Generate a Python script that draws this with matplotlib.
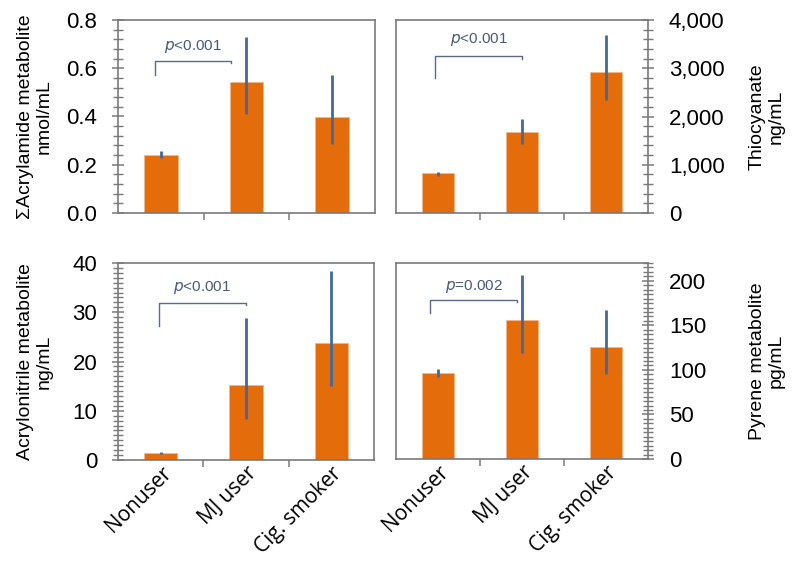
import matplotlib
matplotlib.use('Agg')
import matplotlib.pyplot as plt
import numpy as np
from matplotlib.ticker import MultipleLocator, FuncFormatter

plt.rcParams['font.family'] = ['Liberation Sans', 'DejaVu Sans']

groups = ['Nonuser', 'MJ user', 'Cig. smoker']

# mean values and error bar ends (low, high)
acr_mean = [0.24, 0.545, 0.40]
acr_lo = [0.23, 0.41, 0.285]
acr_hi = [0.255, 0.73, 0.57]

thio_mean = [820, 1680, 2930]
thio_lo = [770, 1420, 2340]
thio_hi = [860, 1950, 3690]

acn_mean = [1.4, 15.2, 23.8]
acn_lo = [1.2, 8.3, 15.1]
acn_hi = [1.7, 28.8, 38.3]

pyr_mean = [96, 156, 126]
pyr_lo = [92, 119, 95]
pyr_hi = [101, 206, 167]

bar_color = '#E46C0A'
err_color = '#44689A'
brk_color = '#5B6B86'
spine_color = '#7A7A7A'

fig = plt.figure(figsize=(8, 5.61), dpi=100)
W, H = 800, 561

def add_ax(x0, x1, y0, y1):
    return fig.add_axes([x0 / W, 1 - y1 / H, (x1 - x0) / W, (y1 - y0) / H])

ax_tl = add_ax(118, 375, 20, 213)
ax_tr = add_ax(396, 648, 20, 213)
ax_bl = add_ax(118, 374, 263, 460)
ax_br = add_ax(396, 648, 263, 459)

panels = [
    (ax_tl, acr_mean, acr_lo, acr_hi, (0, 0.8), 0.2, 0.04, 'left',
     '\u03a3Acrylamide metabolite\nnmol/mL', 'p<0.001', (-0.07, 0.82, 0.57, 0.63, 0.69), lambda v, p: f'{v:.1f}'),
    (ax_tr, thio_mean, thio_lo, thio_hi, (0, 4000), 1000, 200, 'right',
     'Thiocyanate\nng/mL', 'p<0.001', (-0.03, 1.0, 2790, 3250, 3600), lambda v, p: f'{v:,.0f}'),
    (ax_bl, acn_mean, acn_lo, acn_hi, (0, 40), 10, 1, 'left',
     'Acrylonitrile metabolite\nng/mL', 'p<0.001', (-0.02, 1.0, 27.3, 31.9, 35.0), lambda v, p: f'{v:.0f}'),
    (ax_br, pyr_mean, pyr_lo, pyr_hi, (0, 220), 50, 5, 'right',
     'Pyrene metabolite\npg/mL', 'p=0.002', (-0.09, 0.94, 164, 178.6, 194), lambda v, p: f'{v:.0f}'),
]

x = np.arange(len(groups))

for ax, mean, lo, hi, ylim, major, minor, side, ylabel, ptxt, brk, fmt in panels:
    ax.bar(x, mean, width=0.39, color=bar_color, edgecolor='#F6B68A', linewidth=0.6, zorder=2)
    ax.vlines(x, lo, hi, color=err_color, linewidth=2, zorder=3)

    ax.set_xlim(-0.5, 2.5)
    ax.set_ylim(*ylim)
    ax.yaxis.set_major_locator(MultipleLocator(major))
    ax.yaxis.set_minor_locator(MultipleLocator(minor))
    ax.yaxis.set_major_formatter(FuncFormatter(fmt))

    for s in ax.spines.values():
        s.set_color(spine_color)
        s.set_linewidth(1.2)

    if side == 'right':
        ax.yaxis.tick_right()
        ax.yaxis.set_label_position('right')
    ax.tick_params(axis='y', which='major', direction='inout', length=9, width=1.1,
                   color=spine_color, labelsize=16, pad=10.5)
    ax.tick_params(axis='y', which='minor', direction='inout', length=7, width=1.0,
                   color=spine_color)

    # x ticks between categories, labels under each bar
    ax.set_xticks(x)
    ax.set_xticks([0.5, 1.5], minor=True)
    ax.tick_params(axis='x', which='major', length=0, pad=2)
    ax.tick_params(axis='x', which='minor', direction='out', length=5, width=1.1, color=spine_color)

    ax.set_ylabel(ylabel, fontsize=14, linespacing=1.15)
    if side == 'left':
        ax.yaxis.set_label_coords(-0.255, 0.5)
    else:
        ax.yaxis.set_label_coords(1.40, 0.5)

    # significance bracket
    x0, x1, yb, yt, ytxt = brk
    tick = (ylim[1] - ylim[0]) * 0.012
    ax.plot([x0, x0, x1, x1], [yb, yt, yt, yt - tick], color=brk_color, linewidth=1.0, zorder=4)
    sym = ptxt[1:]
    ax.text((x0 + x1) / 2, ytxt, r'$\it{p}$' + sym, ha='center', va='center',
            fontsize=11, color='#4A5A78')

for ax in (ax_tl, ax_tr):
    ax.set_xticklabels([])
for ax in (ax_bl, ax_br):
    ax.set_xticklabels(groups, rotation=45, ha='right', va='top', rotation_mode='anchor',
                       fontsize=15, family=['Open Sans', 'DejaVu Sans'])

fig.savefig('out.png', dpi=100)
